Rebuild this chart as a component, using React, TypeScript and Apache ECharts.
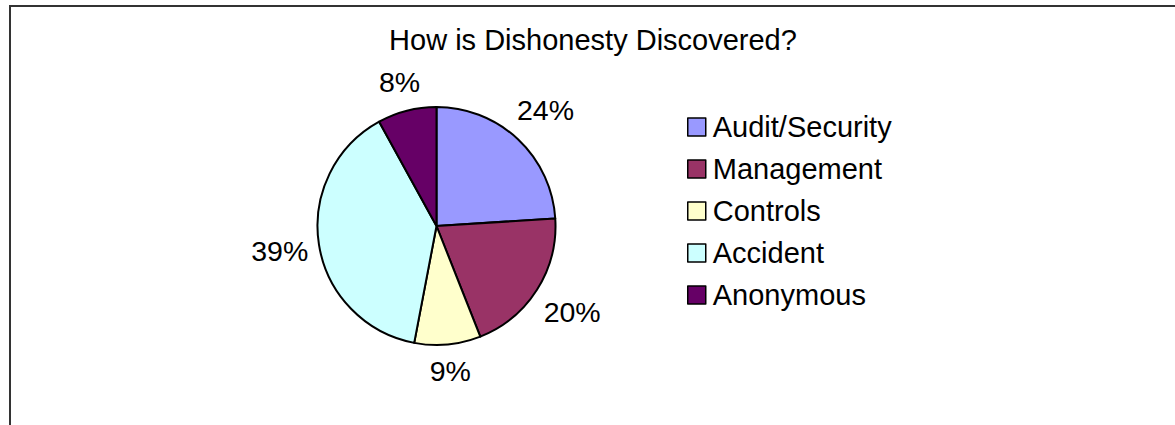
import React, { useEffect, useRef } from "react";
import * as echarts from "echarts";

const TITLE = "How is Dishonesty Discovered?";
const categories = ["Audit/Security", "Management", "Controls", "Accident", "Anonymous"];
const values = [24, 20, 9, 39, 8];
const colors = ["#9999FF", "#993366", "#FFFFCC", "#CCFFFF", "#660066"];

const CX = 436.5;
const CY = 226;
const R = 119;
const FONT = "'Liberation Sans', Arial, sans-serif";
const FS = 29;

export default function App() {
  const ref = useRef<HTMLDivElement>(null);
  useEffect(() => {
    if (!ref.current) return;
    const chart = echarts.init(ref.current, undefined, { renderer: "svg" });
    const total = values.reduce((a, b) => a + b, 0);
    const mids: number[] = [];
    let cum = 0;
    values.forEach((v) => {
      const midFrac = (cum + v / 2) / total;
      mids.push(((90 - 360 * midFrac) * Math.PI) / 180);
      cum += v;
    });
    chart.setOption({
      animation: false,
      backgroundColor: "#fff",
      textStyle: { fontFamily: FONT },
      title: {
        text: TITLE,
        left: 588,
        textAlign: "center",
        top: 19,
        textStyle: { fontFamily: FONT, fontSize: FS, fontWeight: "normal", color: "#000", lineHeight: 32 },
      },
      graphic: [
        {
          type: "rect",
          shape: { x: 10, y: 6, width: 1300, height: 600 },
          style: { fill: "none", stroke: "#333", lineWidth: 2 },
          silent: true,
        },
      ],
      legend: {
        orient: "vertical",
        left: 687,
        top: 112,
        padding: 0,
        itemWidth: 18,
        itemHeight: 18,
        itemGap: 12,
        icon: "rect",
        selectedMode: false,
        itemStyle: { borderColor: "#000", borderWidth: 1.5 },
        textStyle: { fontFamily: FONT, fontSize: FS, color: "#000", lineHeight: 30, padding: [0, 0, 0, 2] },
        data: categories,
      },
      series: [
        {
          type: "pie",
          center: [CX, CY],
          radius: [0, R],
          startAngle: 90,
          clockwise: true,
          avoidLabelOverlap: false,
          itemStyle: { borderColor: "#000", borderWidth: 2 },
          label: {
            show: true,
            position: "outside",
            formatter: "{d}%",
            fontFamily: FONT,
            fontSize: 28.5,
            color: "#000",
            lineHeight: 32,
          },
          labelLine: { show: false },
          labelLayout: (params: any) => {
            const th = mids[params.dataIndex];
            const c = Math.cos(th);
            const s = Math.sin(th);
            const w = params.labelRect.width;
            const h = params.labelRect.height;
            const d = R + 9 + (w / 2) * Math.abs(c) + (h / 2) * Math.abs(s);
            return {
              x: CX + d * c,
              y: CY - d * s,
              align: "center",
              verticalAlign: "middle",
            };
          },
          emphasis: { disabled: true },
          data: categories.map((name, i) => ({
            name,
            value: values[i],
            itemStyle: { color: colors[i] },
          })),
        },
      ],
    });
    return () => chart.dispose();
  }, []);
  return (
    <div
      ref={ref}
      style={{ position: "absolute", left: 0, top: 0, width: 1175, height: 425 }}
    />
  );
}
